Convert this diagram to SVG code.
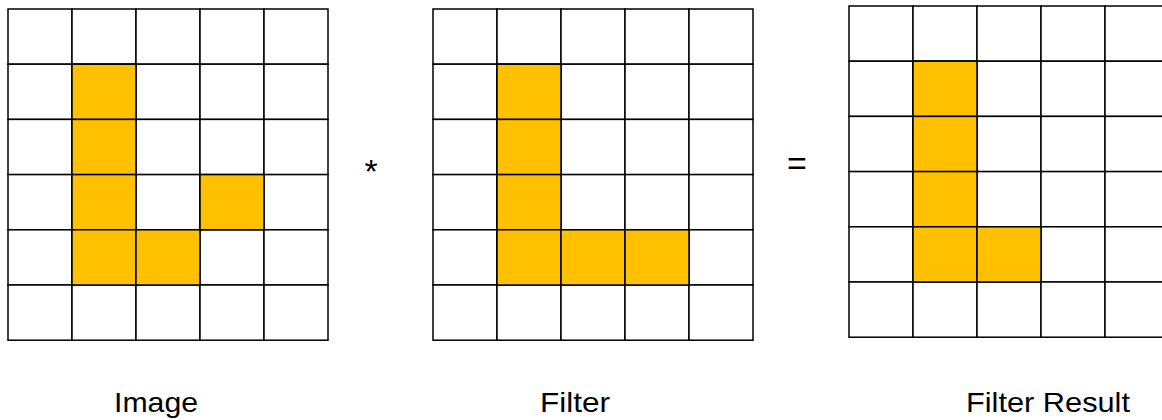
<svg xmlns="http://www.w3.org/2000/svg" width="1162" height="420" viewBox="0 0 1162 420">
<style>
.c{fill:#ffffff;stroke:#000;stroke-width:1.5}
.f{fill:#FFC000;stroke:#000;stroke-width:1.5}
.t{font-family:"Liberation Sans",Arial,sans-serif;font-size:28px;fill:#000;text-anchor:middle}
.op{font-family:"Liberation Sans",Arial,sans-serif;font-size:34px;fill:#000;text-anchor:middle}
</style>
<rect width="1162" height="420" fill="#fff"/>
<defs>
<g id="grid">
<rect class="c" x="0" y="0" width="64" height="55.2"/><rect class="c" x="64" y="0" width="64" height="55.2"/><rect class="c" x="128" y="0" width="64" height="55.2"/><rect class="c" x="192" y="0" width="64" height="55.2"/><rect class="c" x="256" y="0" width="64" height="55.2"/>
<rect class="c" x="0" y="55.2" width="64" height="55.2"/><rect class="c" x="64" y="55.2" width="64" height="55.2"/><rect class="c" x="128" y="55.2" width="64" height="55.2"/><rect class="c" x="192" y="55.2" width="64" height="55.2"/><rect class="c" x="256" y="55.2" width="64" height="55.2"/>
<rect class="c" x="0" y="110.4" width="64" height="55.2"/><rect class="c" x="64" y="110.4" width="64" height="55.2"/><rect class="c" x="128" y="110.4" width="64" height="55.2"/><rect class="c" x="192" y="110.4" width="64" height="55.2"/><rect class="c" x="256" y="110.4" width="64" height="55.2"/>
<rect class="c" x="0" y="165.6" width="64" height="55.2"/><rect class="c" x="64" y="165.6" width="64" height="55.2"/><rect class="c" x="128" y="165.6" width="64" height="55.2"/><rect class="c" x="192" y="165.6" width="64" height="55.2"/><rect class="c" x="256" y="165.6" width="64" height="55.2"/>
<rect class="c" x="0" y="220.8" width="64" height="55.2"/><rect class="c" x="64" y="220.8" width="64" height="55.2"/><rect class="c" x="128" y="220.8" width="64" height="55.2"/><rect class="c" x="192" y="220.8" width="64" height="55.2"/><rect class="c" x="256" y="220.8" width="64" height="55.2"/>
<rect class="c" x="0" y="276" width="64" height="55.2"/><rect class="c" x="64" y="276" width="64" height="55.2"/><rect class="c" x="128" y="276" width="64" height="55.2"/><rect class="c" x="192" y="276" width="64" height="55.2"/><rect class="c" x="256" y="276" width="64" height="55.2"/>
</g>
</defs>
<g id="image" transform="translate(8,9)">
<use href="#grid"/>
<rect class="f" x="64" y="55.2" width="64" height="55.2"/>
<rect class="f" x="64" y="110.4" width="64" height="55.2"/>
<rect class="f" x="64" y="165.6" width="64" height="55.2"/>
<rect class="f" x="192" y="165.6" width="64" height="55.2"/>
<rect class="f" x="64" y="220.8" width="64" height="55.2"/>
<rect class="f" x="128" y="220.8" width="64" height="55.2"/>
</g>
<g id="filter" transform="translate(433,9)">
<use href="#grid"/>
<rect class="f" x="64" y="55.2" width="64" height="55.2"/>
<rect class="f" x="64" y="110.4" width="64" height="55.2"/>
<rect class="f" x="64" y="165.6" width="64" height="55.2"/>
<rect class="f" x="64" y="220.8" width="64" height="55.2"/>
<rect class="f" x="128" y="220.8" width="64" height="55.2"/>
<rect class="f" x="192" y="220.8" width="64" height="55.2"/>
</g>
<g id="result" transform="translate(849,6)">
<use href="#grid"/>
<rect class="f" x="64" y="55.2" width="64" height="55.2"/>
<rect class="f" x="64" y="110.4" width="64" height="55.2"/>
<rect class="f" x="64" y="165.6" width="64" height="55.2"/>
<rect class="f" x="64" y="220.8" width="64" height="55.2"/>
<rect class="f" x="128" y="220.8" width="64" height="55.2"/>
</g>
<g id="operators">
<text class="op" x="371" y="183">*</text>
<text class="op" x="797" y="175">=</text>
</g>
<g id="labels">
<text class="t" x="156" y="412" textLength="84" lengthAdjust="spacingAndGlyphs">Image</text>
<text class="t" x="575" y="412" textLength="70" lengthAdjust="spacingAndGlyphs">Filter</text>
<text class="t" x="1048" y="412" textLength="164" lengthAdjust="spacingAndGlyphs">Filter Result</text>
</g>
</svg>
